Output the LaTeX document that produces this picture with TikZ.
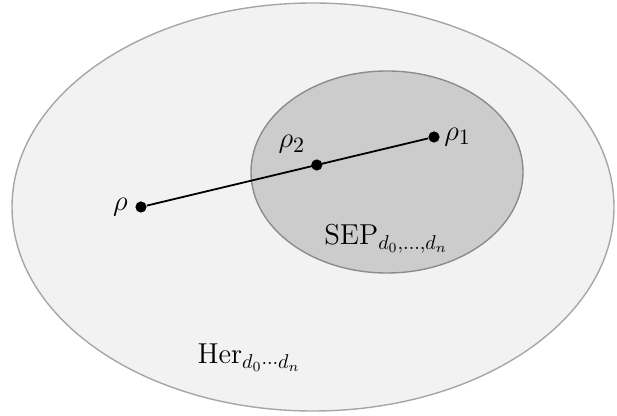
\documentclass[tikz,border=0pt]{standalone}
\usepackage{amsmath,amssymb}
\usetikzlibrary{calc,positioning}
\tikzset{
  >=stealth,
  line cap=round,
  line join=round,
  herset/.style={draw=gray!70, fill=gray!10, line width=0.7pt},
  sepset/.style={draw=gray!90, fill=gray!40, line width=0.7pt},
  point/.style={circle, fill, inner sep=0pt, minimum size=5.6pt},
  segment/.style={line width=0.9pt},
  lbl/.style={inner sep=1pt, font=\fontsize{15}{18}\selectfont},
  setname/.style={inner sep=1pt, font=\fontsize{14.5}{17}\selectfont}
}
\begin{document}
\begin{tikzpicture}[x=0.5pt,y=-0.5pt]
  \useasboundingbox (0,0) rectangle (617,416);

  % the two sets
  \draw[herset] (313,207) ellipse [x radius=301, y radius=204];
  \draw[sepset] (387,172) ellipse [x radius=136, y radius=101];

  % points
  \node[point] (rho)  at (141,207) {};
  \node[point] (rho1) at (434,137) {};
  \node[point] (rho2) at ($(rho)!0.6!(rho1)$) {};
  \draw[segment] (rho) -- (rho1);

  \node[lbl, left=2.5pt of rho] (lrho) {$\rho$};
  \node[lbl, right=1pt of rho1] (lrho1) {$\rho_1$};
  \node[lbl, above left=2.5pt and 2.5pt of rho2] (lrho2) {$\rho_2$};

  \node[setname, anchor=base] (sep) at (386,245) {$\mathrm{SEP}_{d_0,\ldots,d_n}$};
  \node[setname, anchor=base] (her) at (249,364) {$\mathrm{Her}_{d_0\cdots d_n}$};
\end{tikzpicture}
\end{document}
